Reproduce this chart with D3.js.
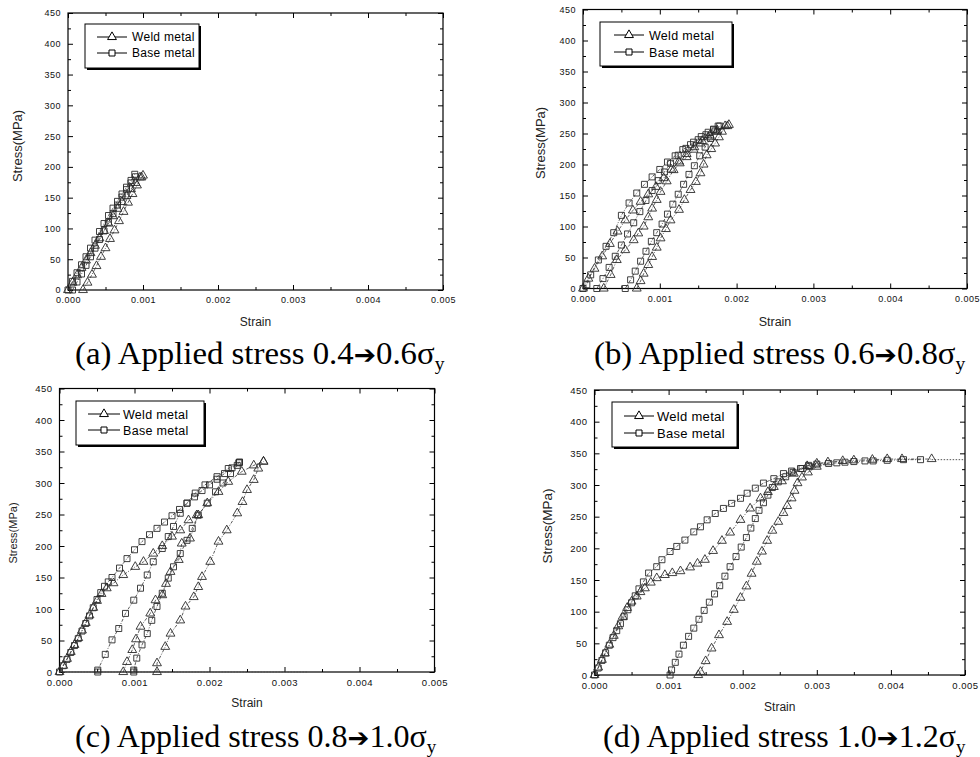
<!DOCTYPE html>
<html><head><meta charset="utf-8">
<script src="https://cdn.jsdelivr.net/npm/d3@7"></script>
<style>body{margin:0;background:#fff}</style>
</head><body>
<svg id="chart" width="980" height="757"></svg>
<script>
// ---------- data ----------
const xTickValues = [0, 0.001, 0.002, 0.003, 0.004, 0.005];
const xMinorValues = [0.0005, 0.0015, 0.0025, 0.0035, 0.0045];
const yTickValues = [0, 50, 100, 150, 200, 250, 300, 350, 400, 450];
const yMinorValues = [25, 75, 125, 175, 225, 275, 325, 375, 425];
const seriesNames = ["Weld metal", "Base metal"];
const captionIds = ["(a)", "(b)", "(c)", "(d)"];
const captionFrom = ["0.4", "0.6", "0.8", "1.0"];
const captionTo = ["0.6", "0.8", "1.0", "1.2"];

// panel (a)
const aWeldLoad = [[0,0],[0.00006,12],[0.00012,24],[0.00018,36],[0.00024,48],[0.0003,60],[0.00036,72],[0.00042,84],[0.00048,96],[0.00054,108],[0.0006,120],[0.00066,132],[0.00072,143],[0.00078,153],[0.00084,164],[0.0009,174],[0.00096,183]];
const aWeldReload = [[0.0002,0],[0.00026,12],[0.00032,25],[0.00038,39],[0.00044,54],[0.0005,68],[0.00056,83],[0.00062,97],[0.00068,112],[0.00074,127],[0.0008,142],[0.00086,156],[0.00092,170],[0.00098,183],[0.001,186]];
const aBaseLoad = [[0,0],[0.00006,14],[0.00012,28],[0.00018,41],[0.00024,54],[0.0003,68],[0.00036,81],[0.00042,95],[0.00048,108],[0.00054,121],[0.0006,133],[0.00066,144],[0.00072,156],[0.00078,167],[0.00084,178],[0.00089,188]];
const aBaseReload = [[0.00006,0],[0.00012,13],[0.00018,26],[0.00024,40],[0.0003,54],[0.00036,68],[0.00042,82],[0.00048,96],[0.00054,110],[0.0006,124],[0.00066,138],[0.00072,151],[0.00078,163],[0.00084,174],[0.0009,184]];

// panel (b)
const bWeldLoad = [[0,0],[0.00007,16],[0.00015,32],[0.00025,52],[0.00035,72],[0.00045,92],[0.00055,110],[0.00065,126],[0.00075,140],[0.00085,152],[0.00095,164],[0.00105,178],[0.00115,192],[0.00125,205],[0.00135,217],[0.00145,228],[0.00155,238],[0.00165,247],[0.00175,255],[0.00185,262]];
const bWeldReload1 = [[0.00027,0],[0.00036,22],[0.00044,46],[0.00055,62],[0.00066,78],[0.00072,89],[0.00079,100],[0.00085,115],[0.0009,129],[0.00096,143],[0.00101,156],[0.00109,173],[0.00118,191],[0.00126,202],[0.00135,212],[0.00144,224],[0.00153,234],[0.00163,244],[0.00174,253],[0.00188,262]];
const bWeldReload2 = [[0.0007,0],[0.00075,12],[0.00079,24],[0.00085,38],[0.0009,51],[0.00096,66],[0.00101,81],[0.00108,96],[0.00114,110],[0.00125,127],[0.00132,143],[0.0014,159],[0.00147,172],[0.00153,186],[0.00157,200],[0.00161,215],[0.00167,225],[0.00172,234],[0.00177,244],[0.00181,253],[0.0019,264]];
const bBaseLoad = [[0,0],[0.00005,6],[0.0001,22],[0.0002,46],[0.0003,68],[0.0004,90],[0.0005,118],[0.0006,138],[0.0007,154],[0.0008,168],[0.0009,180],[0.001,192],[0.0011,204],[0.0012,214],[0.0013,224],[0.0014,232],[0.0015,240],[0.0016,248],[0.0017,256],[0.00176,262]];
const bBaseReload1 = [[0.00018,0],[0.00026,16],[0.00034,34],[0.00042,52],[0.0005,70],[0.00058,88],[0.00066,106],[0.00074,124],[0.00082,142],[0.0009,158],[0.00098,174],[0.00106,188],[0.00114,202],[0.00124,215],[0.00134,226],[0.00144,236],[0.00154,245],[0.00163,252],[0.0017,257]];
const bBaseReload2 = [[0.00055,0],[0.00062,14],[0.00068,28],[0.00075,44],[0.00082,60],[0.00089,76],[0.00096,90],[0.00103,104],[0.0011,120],[0.00117,136],[0.00124,152],[0.00131,168],[0.00138,184],[0.00145,198],[0.00152,214],[0.00159,228],[0.00166,242],[0.00172,254],[0.00178,262]];

// panel (c)
const cWeldLoad = [[0,0],[0.00005,10],[0.0001,21],[0.00015,32],[0.0002,43],[0.00025,54],[0.0003,66],[0.00035,78],[0.0004,90],[0.00045,102],[0.0005,113],[0.00056,124],[0.00063,133],[0.00072,141],[0.00085,154],[0.00101,167],[0.00112,175],[0.00125,188],[0.00137,200],[0.0015,215],[0.00161,225],[0.00172,241],[0.00183,249]];
const cWeldReload1 = [[0.00085,0],[0.0009,16],[0.00097,35],[0.00102,52],[0.00108,72],[0.00121,93],[0.00128,114],[0.00137,122],[0.00142,140],[0.00148,159],[0.00159,178],[0.00163,204],[0.00174,212],[0.00185,249],[0.00197,268],[0.00212,286],[0.00225,302],[0.00243,318],[0.00259,328],[0.00272,334]];
const cWeldReload2 = [[0.0013,0],[0.0013,14],[0.00141,40],[0.00148,61],[0.00161,82],[0.00168,104],[0.00179,119],[0.00185,135],[0.0019,151],[0.00201,175],[0.00212,207],[0.00223,225],[0.00237,252],[0.00244,270],[0.0025,289],[0.00259,305],[0.00265,323],[0.00272,334]];
const cBaseLoad = [[0,0],[0.00005,10],[0.0001,20],[0.00015,31],[0.0002,42],[0.00025,53],[0.0003,65],[0.00035,77],[0.0004,89],[0.00045,102],[0.0005,115],[0.00055,126],[0.0006,136],[0.00065,143],[0.0007,150],[0.0008,165],[0.0009,180],[0.001,194],[0.0011,207],[0.0012,218],[0.0013,228],[0.0014,238],[0.0015,248],[0.0016,258],[0.0017,268],[0.0018,278],[0.0019,288],[0.002,297],[0.0021,306],[0.0022,315],[0.0023,324],[0.0024,333]];
const cBaseReload1 = [[0.00051,0],[0.00051,3],[0.00061,28],[0.0007,51],[0.00079,69],[0.00088,93],[0.00099,114],[0.00108,133],[0.00117,154],[0.00125,175],[0.00137,196],[0.00145,215],[0.00152,231],[0.00161,252],[0.0017,268],[0.00181,284],[0.00194,297],[0.0021,310],[0.00225,323],[0.00239,332]];
const cBaseReload2 = [[0.00099,0],[0.00099,3],[0.00103,22],[0.0011,43],[0.00117,61],[0.00123,82],[0.0013,104],[0.00137,125],[0.00145,149],[0.00152,167],[0.00161,188],[0.0017,209],[0.00177,228],[0.00185,249],[0.00197,268],[0.00208,286],[0.00218,300],[0.00228,315],[0.00237,328],[0.0024,333]];
const cZeroLine = [[0,0],[0.0033,0]];

// panel (d)
const dWeldLoad = [[0,0],[0.00005,12],[0.0001,24],[0.00014,34],[0.0002,48],[0.00026,62],[0.00032,77],[0.00038,92],[0.00044,106],[0.0005,116],[0.00057,124],[0.00062,131],[0.00068,137],[0.00076,146],[0.00084,153],[0.00095,158],[0.00105,161],[0.00116,164],[0.00129,170],[0.00139,176],[0.00149,182],[0.0016,196],[0.00172,212],[0.00183,225],[0.00197,245],[0.0021,263],[0.00224,279],[0.00234,289],[0.00242,297],[0.00253,306],[0.00269,318],[0.00287,330],[0.003,334],[0.00315,336],[0.00335,338],[0.0035,339],[0.00375,340],[0.00395,341],[0.00415,341],[0.00455,341]];
const dWeldReload = [[0.0014,0],[0.00143,5],[0.0015,22],[0.00158,42],[0.00168,63],[0.00179,84],[0.00188,103],[0.00197,122],[0.00205,140],[0.00212,160],[0.00219,179],[0.00226,195],[0.00233,212],[0.0024,228],[0.00248,242],[0.00255,256],[0.0026,267],[0.00266,279],[0.0027,291],[0.00274,303],[0.0028,312],[0.00288,320],[0.003,329]];
const dBaseLoad = [[0,0],[0.00005,11],[0.0001,23],[0.00015,35],[0.0002,47],[0.00025,59],[0.0003,70],[0.00035,81],[0.0004,92],[0.00045,103],[0.0005,114],[0.00055,125],[0.0006,136],[0.00066,147],[0.00073,161],[0.00084,171],[0.00091,182],[0.00102,195],[0.00111,203],[0.00122,213],[0.00134,226],[0.00143,234],[0.00152,245],[0.00163,255],[0.00174,263],[0.00185,271],[0.00197,279],[0.00206,287],[0.00217,295],[0.00228,303],[0.00242,310],[0.00255,318],[0.00266,322],[0.00278,326],[0.00289,331],[0.003,333],[0.00316,334],[0.00327,335],[0.00338,336],[0.0035,337],[0.00365,338],[0.00376,338],[0.00395,339],[0.00417,340],[0.0044,340]];
const dBaseReload = [[0.00102,0],[0.00104,8],[0.00109,20],[0.00114,33],[0.0012,47],[0.00127,61],[0.00134,74],[0.00141,88],[0.00148,102],[0.00155,115],[0.00162,128],[0.00169,141],[0.00176,156],[0.00183,171],[0.00191,187],[0.00198,202],[0.00205,217],[0.00211,232],[0.00217,247],[0.00222,260],[0.00228,272],[0.00234,284],[0.0024,296],[0.00248,305],[0.00258,313],[0.00268,320],[0.0028,326],[0.0029,329]];
const dPlateauLine = [[0.00455,340],[0.005,340]];

const panelWeld = [[aWeldLoad, aWeldReload], [bWeldLoad, bWeldReload1, bWeldReload2], [cWeldLoad, cWeldReload1, cWeldReload2], [dWeldLoad, dWeldReload]];
const panelBase = [[aBaseLoad, aBaseReload], [bBaseLoad, bBaseReload1, bBaseReload2], [cBaseLoad, cBaseReload1, cBaseReload2], [dBaseLoad, dBaseReload]];
const panelExtraLines = [[], [], [cZeroLine], [dPlateauLine]];

// ---------- layout ----------
const layout = [
  {l:68, r:443, t:13, b:290, ytx:19, yty:146, yts:13, xty:326, xts:12, tickFs:9,
   lg:{x:85,y:24,w:114,h:44,rows:[37,53],lx:[97,127],tx:132,fs:12}, cap:{x0:75,x1:445,y:364}},
  {l:583, r:967, t:9.5, b:288.5, ytx:542, yty:143, yts:13, xty:326, xts:12.5, tickFs:9,
   lg:{x:600,y:22,w:132,h:44,rows:[35,52],lx:[614,644],tx:649,fs:12.5}, cap:{x0:594,x1:966,y:364}},
  {l:59.5, r:434.5, t:388.5, b:672, ytx:14, yty:533, yts:11, xty:707, xts:12, tickFs:9.5,
   lg:{x:76,y:401,w:128,h:44,rows:[414,430],lx:[88,120],tx:123,fs:12.5}, cap:{x0:75,x1:437,y:747}},
  {l:594.5, r:965, t:390, b:675, ytx:548, yty:526, yts:13.5, xty:711, xts:12, tickFs:9.5,
   lg:{x:612,y:402,w:125,h:45,rows:[416,433],lx:[624,654],tx:657,fs:13}, cap:{x0:603,x1:966,y:747}}
];

const svg = d3.select("#chart");
const fmtX = d3.format(".3f");
const markerColor = "#2a2a2a";
const triSym = d3.symbol().type(d3.symbolTriangle).size(34);
const sqSym = d3.symbol().type(d3.symbolSquare).size(36);

layout.forEach((L, i) => {
  const g = svg.append("g");
  const x = d3.scaleLinear().domain([0, 0.005]).range([L.l, L.r]);
  const y = d3.scaleLinear().domain([0, 450]).range([L.b, L.t]);

  const mk = (axisFn, scale, vals, size, labels, pos, pad) => {
    const a = axisFn(scale).tickValues(vals).tickSize(-size).tickPadding(pad);
    if (!labels) a.tickFormat("");
    else if (scale === x) a.tickFormat(d => fmtX(d));
    const ag = g.append("g").attr("transform", pos).call(a);
    ag.select(".domain").remove();
    ag.selectAll("line").attr("stroke", "#000").attr("stroke-width", 1);
    ag.selectAll("text").attr("font-family", "Arial, 'Liberation Sans', sans-serif")
      .attr("font-size", L.tickFs).attr("letter-spacing", "0.5px").attr("fill", "#111");
    return ag;
  };
  mk(d3.axisBottom, x, xTickValues, 5, true, `translate(0,${L.b})`, 7);
  mk(d3.axisBottom, x, xMinorValues, 3, false, `translate(0,${L.b})`, 7);
  mk(d3.axisTop, x, xTickValues, 5, false, `translate(0,${L.t})`, 7);
  mk(d3.axisTop, x, xMinorValues, 3, false, `translate(0,${L.t})`, 7);
  mk(d3.axisLeft, y, yTickValues, 5, true, `translate(${L.l},0)`, 7);
  mk(d3.axisLeft, y, yMinorValues, 3, false, `translate(${L.l},0)`, 7);
  mk(d3.axisRight, y, yTickValues, 5, false, `translate(${L.r},0)`, 7);
  mk(d3.axisRight, y, yMinorValues, 3, false, `translate(${L.r},0)`, 7);

  g.append("rect").attr("x", L.l).attr("y", L.t).attr("width", L.r - L.l).attr("height", L.b - L.t)
    .attr("fill", "none").attr("stroke", "#000").attr("stroke-width", 1.2);

  g.append("text").attr("transform", `translate(${L.ytx},${L.yty}) rotate(-90)`)
    .attr("text-anchor", "middle").attr("dominant-baseline", "middle")
    .attr("font-family", "Arial, 'Liberation Sans', sans-serif").attr("font-size", L.yts)
    .attr("fill", "#222").text("Stress(MPa)");
  g.append("text").attr("x", (L.l + L.r) / 2).attr("y", L.xty).attr("text-anchor", "middle")
    .attr("font-family", "Arial, 'Liberation Sans', sans-serif").attr("font-size", L.xts)
    .attr("fill", "#222").text("Strain");

  const line = d3.line().x(d => x(d[0])).y(d => y(d[1]));
  const plot = g.append("g");

  panelExtraLines[i].forEach(seg => {
    plot.append("path").attr("d", line(seg)).attr("fill", "none")
      .attr("stroke", "#555").attr("stroke-width", 1).attr("stroke-dasharray", "1.5,1.5");
  });

  const drawSeries = (segs, sym) => {
    segs.forEach(seg => {
      plot.append("path").attr("d", line(seg)).attr("fill", "none")
        .attr("stroke", "#333").attr("stroke-width", 0.8).attr("stroke-dasharray", "3,1.5,1,1.5");
    });
    segs.forEach(seg => {
      plot.selectAll(null).data(seg).enter().append("path")
        .attr("d", sym).attr("transform", d => `translate(${x(d[0])},${y(d[1])})`)
        .attr("fill", "none").attr("stroke", markerColor).attr("stroke-width", 0.9);
    });
  };
  drawSeries(panelWeld[i], triSym);
  drawSeries(panelBase[i], sqSym);

  const lg = L.lg;
  g.append("rect").attr("x", lg.x + 2).attr("y", lg.y + 2).attr("width", lg.w).attr("height", lg.h).attr("fill", "#000");
  g.append("rect").attr("x", lg.x).attr("y", lg.y).attr("width", lg.w).attr("height", lg.h)
    .attr("fill", "#fff").attr("stroke", "#000").attr("stroke-width", 1);
  seriesNames.forEach((name, k) => {
    const ry = lg.rows[k];
    g.append("line").attr("x1", lg.lx[0]).attr("x2", lg.lx[1]).attr("y1", ry).attr("y2", ry)
      .attr("stroke", "#000").attr("stroke-width", 1);
    g.append("path").attr("d", k === 0 ? triSym : sqSym)
      .attr("transform", `translate(${(lg.lx[0] + lg.lx[1]) / 2},${ry})`)
      .attr("fill", "#fff").attr("stroke", "#000").attr("stroke-width", 1);
    g.append("text").attr("x", lg.tx).attr("y", ry + lg.fs * 0.36)
      .attr("font-family", "Arial, 'Liberation Sans', sans-serif").attr("font-size", lg.fs)
      .attr("letter-spacing", "0.3px").attr("fill", "#000").text(name);
  });

  const cap = svg.append("text").attr("x", 0).attr("y", 0)
    .attr("font-family", "'Liberation Serif', 'DejaVu Serif', serif").attr("font-size", 32).attr("fill", "#000");
  cap.append("tspan").text(`${captionIds[i]} Applied stress ${captionFrom[i]}`);
  cap.append("tspan").attr("font-family", "'DejaVu Sans', sans-serif").attr("font-size", 26).text("\u2794");
  cap.append("tspan").text(`${captionTo[i]}\u03c3`);
  cap.append("tspan").attr("font-size", 19).attr("dy", 6).text("y");
  const w = cap.node().getBBox().width;
  const sx = (L.cap.x1 - L.cap.x0) / w;
  cap.attr("transform", `translate(${L.cap.x0},${L.cap.y}) scale(${sx},1)`);
});
</script>
</body></html>
